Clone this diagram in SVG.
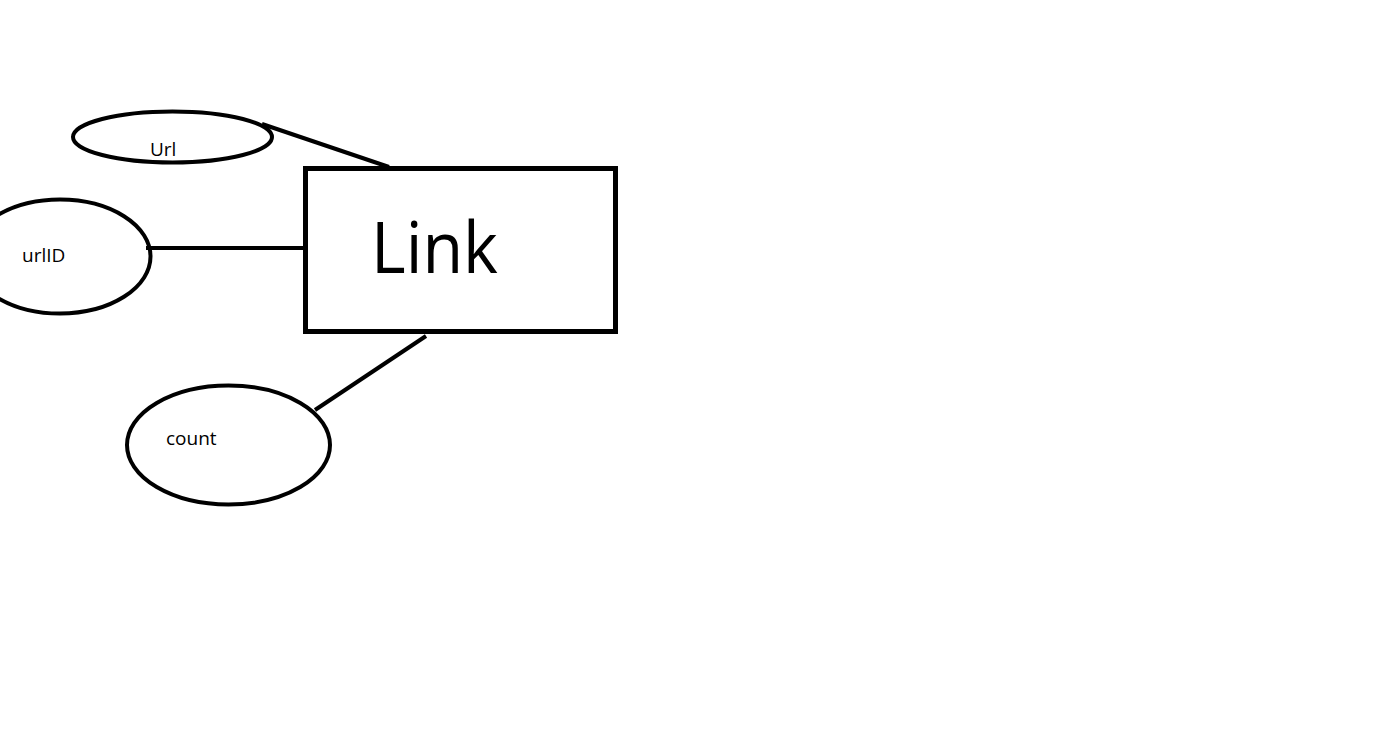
<svg xmlns="http://www.w3.org/2000/svg" width="1373" height="738" viewBox="0 0 1373 738">
<style>
.shape{fill:none;stroke:#000;stroke-width:4}
.edge{stroke:#000;stroke-width:4;fill:none}
.lbl{font-family:"Open Sans","Noto Sans",sans-serif;font-size:19px;fill:#000}
.big{font-family:"Open Sans","Noto Sans",sans-serif;font-size:72px;fill:#000}
</style>
<rect width="1373" height="738" fill="#fff"/>
<g id="connectors">
<line class="edge" x1="262" y1="124" x2="389" y2="167"/>
<line class="edge" x1="146" y1="248" x2="305" y2="248"/>
<line class="edge" x1="315" y1="410" x2="426" y2="336"/>
</g>
<g id="node-link">
<rect class="shape" x="305.5" y="168.5" width="310" height="163" style="stroke-width:5"/>
<text class="big" x="371" y="273" textLength="127" lengthAdjust="spacingAndGlyphs">Link</text>
</g>
<g id="node-url">
<ellipse class="shape" cx="172.5" cy="137" rx="99.5" ry="25.5"/>
<text class="lbl" x="150" y="156">Url</text>
</g>
<g id="node-urlid">
<ellipse class="shape" cx="60" cy="256.5" rx="90.5" ry="57"/>
<text class="lbl" x="22" y="262">urlID</text>
</g>
<g id="node-count">
<ellipse class="shape" cx="228.5" cy="445" rx="101.5" ry="59.5"/>
<text class="lbl" x="166" y="445">count</text>
</g>
</svg>
